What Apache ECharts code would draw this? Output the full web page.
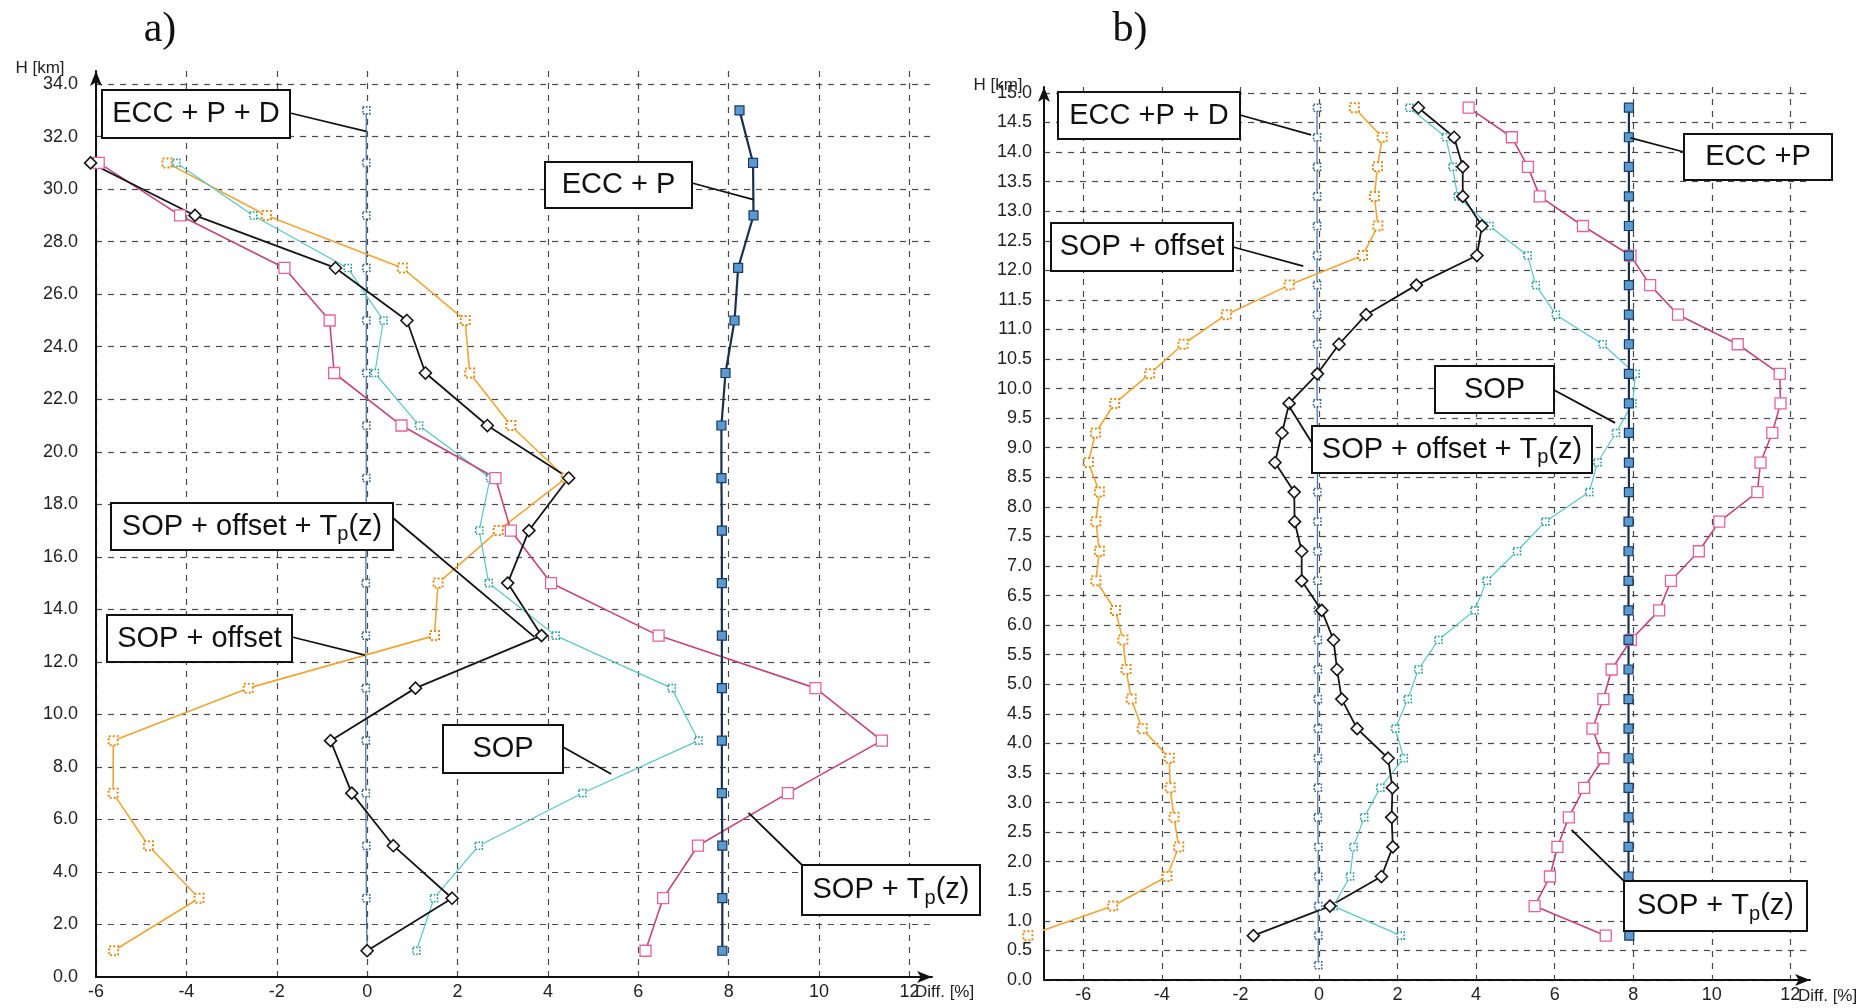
<!DOCTYPE html>
<html><head><meta charset="utf-8">
<script src="https://cdn.jsdelivr.net/npm/echarts@6/dist/echarts.min.js"></script>
<style>html,body{margin:0;padding:0;background:#fff}#c{width:1874px;height:1008px}</style>
</head><body><div id="c"></div>
<script>
// ---------------- DATA ----------------
// tick labels
const xTicks = [-6, -4, -2, 0, 2, 4, 6, 8, 10, 12];
const yTicksA = [0, 2, 4, 6, 8, 10, 12, 14, 16, 18, 20, 22, 24, 26, 28, 30, 32, 34];
const yTicksB = [0, 0.5, 1, 1.5, 2, 2.5, 3, 3.5, 4, 4.5, 5, 5.5, 6, 6.5, 7, 7.5, 8, 8.5, 9, 9.5, 10, 10.5, 11, 11.5, 12, 12.5, 13, 13.5, 14, 14.5, 15];

// panel a) heights [km]
const heightsA = [1, 3, 5, 7, 9, 11, 13, 15, 17, 19, 21, 23, 25, 27, 29, 31];
const heightsEccA = [1, 3, 5, 7, 9, 11, 13, 15, 17, 19, 21, 23, 25, 27, 29, 31, 33];
// panel a) differences [%]
const eccPD_A = [0.0, -0.02, -0.02, -0.03, -0.03, -0.03, -0.03, -0.03, -0.02, -0.02, -0.02, -0.02, -0.02, -0.02, -0.02, -0.02, -0.02];
const eccP_A = [7.86, 7.86, 7.86, 7.85, 7.85, 7.85, 7.85, 7.85, 7.85, 7.84, 7.84, 7.93, 8.13, 8.21, 8.55, 8.54, 8.24];
const sopOffTp_A = [0.0, 1.88, 0.58, -0.34, -0.81, 1.07, 3.86, 3.11, 3.58, 4.46, 2.66, 1.29, 0.88, -0.70, -3.81, -6.12];
const sopOff_A = [-5.61, -3.72, -4.84, -5.62, -5.62, -2.63, 1.49, 1.57, 2.90, 4.40, 3.18, 2.27, 2.17, 0.78, -2.23, -4.43];
const sop_A = [1.09, 1.48, 2.47, 4.76, 7.33, 6.74, 4.17, 2.69, 2.48, 2.72, 1.15, 0.17, 0.36, -0.43, -2.52, -4.22];
const sopTp_A = [6.16, 6.55, 7.32, 9.31, 11.39, 9.92, 6.45, 4.07, 3.18, 2.84, 0.76, -0.73, -0.83, -1.83, -4.14, -5.94];

// panel b) heights [km]
const heightsB = [0.75, 1.25, 1.75, 2.25, 2.75, 3.25, 3.75, 4.25, 4.75, 5.25, 5.75, 6.25, 6.75, 7.25, 7.75,
  8.25, 8.75, 9.25, 9.75, 10.25, 10.75, 11.25, 11.75, 12.25, 12.75, 13.25, 13.75, 14.25, 14.75];
const heightsEccPDB = [0.25, 0.75, 1.25, 1.75, 2.25, 2.75, 3.25, 3.75, 4.25, 4.75, 5.25, 5.75, 6.25, 6.75, 7.25, 7.75,
  8.25, 8.75, 9.25, 9.75, 10.25, 10.75, 11.25, 11.75, 12.25, 12.75, 13.25, 13.75, 14.25, 14.75];
// panel b) differences [%]
const eccPD_B = [-0.02, -0.02, -0.02, -0.02, -0.02, -0.03, -0.03, -0.03, -0.03, -0.03, -0.03, -0.03, -0.03, -0.04, -0.04, -0.04,
  -0.04, -0.04, -0.04, -0.05, -0.05, -0.05, -0.05, -0.05, -0.05, -0.05, -0.05, -0.05, -0.05, -0.05];
const eccP_B = [7.90, 7.88, 7.88, 7.88, 7.88, 7.88, 7.88, 7.88, 7.88, 7.88, 7.88, 7.88, 7.88, 7.88, 7.88,
  7.89, 7.89, 7.89, 7.89, 7.89, 7.89, 7.89, 7.89, 7.89, 7.89, 7.89, 7.89, 7.89, 7.89];
const sopOffTp_B = [-1.67, 0.28, 1.59, 1.88, 1.85, 1.87, 1.76, 0.97, 0.58, 0.46, 0.37, 0.07, -0.44, -0.44, -0.62,
  -0.63, -1.12, -0.94, -0.76, -0.04, 0.51, 1.20, 2.48, 4.02, 4.15, 3.66, 3.66, 3.44, 2.53];
const sopOff_B = [-7.41, -5.25, -3.87, -3.57, -3.69, -3.79, -3.81, -4.50, -4.78, -4.91, -4.99, -5.18, -5.68, -5.59, -5.68,
  -5.59, -5.87, -5.69, -5.20, -4.31, -3.46, -2.36, -0.76, 1.11, 1.50, 1.41, 1.49, 1.61, 0.90];
const sop_B = [2.08, 0.37, 0.79, 0.88, 1.15, 1.56, 2.16, 1.94, 2.26, 2.53, 3.04, 3.96, 4.27, 5.04, 5.76,
  6.88, 7.09, 7.56, 7.98, 8.06, 7.22, 6.03, 5.52, 5.31, 4.34, 3.53, 3.40, 3.23, 2.30];
const sopTp_B = [7.30, 5.49, 5.88, 6.07, 6.36, 6.75, 7.24, 6.96, 7.24, 7.45, 7.94, 8.66, 8.96, 9.67, 10.19,
  11.16, 11.24, 11.54, 11.75, 11.73, 10.66, 9.14, 8.43, 7.93, 6.72, 5.62, 5.32, 4.91, 3.81];

// annotation texts
const annTextsA = ['ECC + P + D', 'ECC + P', 'SOP + offset + T{p|p}(z)', 'SOP + offset', 'SOP', 'SOP + T{p|p}(z)'];
const annTextsB = ['ECC +P + D', 'ECC +P', 'SOP + offset', 'SOP + offset + T{p|p}(z)', 'SOP', 'SOP + T{p|p}(z)'];
// leader-line targets (data coordinates)
const annTargetsA = [[-0.02, 32.2], [8.55, 29.6], [3.70, 12.95], [-0.05, 12.26], [5.4, 7.73], [8.44, 6.25]];
const annTargetsB = [[-0.2, 14.29], [7.93, 14.24], [-0.4, 12.07], [-0.76, 9.7], [7.54, 9.42], [6.43, 2.54]];

// ---------------- LAYOUT / STYLE ----------------
const FONT = "'Liberation Sans', Arial, Helvetica, sans-serif";
const boxesA = [[102, 90, 188, 48], [545, 162, 147, 46], [111, 503, 282, 47], [107, 615, 185, 47], [443, 725, 120, 48], [802, 865, 178, 50]];
const fromA = [[290, 113], [692, 183], [393, 518], [292, 637], [563, 747], [802, 865]];
const boxesB = [[1058, 92, 182, 47], [1684, 134, 148, 46], [1051, 223, 182, 48], [1312, 426, 280, 47], [1435, 366, 119, 47], [1624, 881, 183, 50]];
const fromB = [[1240, 115], [1684, 152], [1233, 247], [1312, 443], [1554, 390], [1624, 881]];

const pts = (xs, hs) => hs.map((h, i) => [xs[i], h]);

const gridLine = { show: true, lineStyle: { color: '#4a4a4a', type: [6, 6], width: 1.2 } };
const axisLineStyle = { show: true, onZero: false, lineStyle: { color: '#111', width: 2 }, symbol: ['none', 'arrow'], symbolSize: [9, 15] };

function xAxisCfg(gi, min, max) {
  return {
    gridIndex: gi, type: 'value', min: min, max: max,
    axisLine: axisLineStyle,
    axisTick: { show: false, customValues: xTicks },
    axisLabel: { customValues: xTicks, fontSize: 18, color: '#222', margin: 6, fontFamily: FONT },
    splitLine: gridLine
  };
}
function yAxisCfg(gi, max, ticks, margin) {
  return {
    gridIndex: gi, type: 'value', min: 0, max: max,
    axisLine: axisLineStyle,
    axisTick: { show: false, customValues: ticks },
    axisLabel: { customValues: ticks, fontSize: 18, color: '#222', margin: margin, fontFamily: FONT, formatter: v => v.toFixed(1) },
    splitLine: gridLine
  };
}

const styles = {
  eccPD: { color: '#3f6f9f', width: 1.2, symbol: 'rect', size: 7, fill: '#fff', border: '#2f5f8f', bw: 1.6, btype: 'dotted' },
  eccP: { color: '#1a2f4f', width: 2.2, symbol: 'rect', size: 9, fill: '#5a9ad0', border: '#1a3a60', bw: 1.2, btype: 'solid' },
  sopOffTp: { color: '#151515', width: 1.8, symbol: 'diamond', size: 12, fill: '#fff', border: '#151515', bw: 1.6, btype: 'solid' },
  sopOff: { color: '#f0a536', width: 1.6, symbol: 'rect', size: 9, fill: '#fff', border: '#e08a18', bw: 2, btype: 'dotted' },
  sop: { color: '#58c6c6', width: 1.2, symbol: 'rect', size: 7, fill: '#fff', border: '#239a9a', bw: 1.6, btype: 'dotted' },
  sopTp: { color: '#c2457f', width: 1.6, symbol: 'rect', size: 11, fill: '#fff', border: '#e2639f', bw: 1.3, btype: 'solid' }
};

function ser(name, gi, data, st) {
  return {
    name: name, type: 'line', xAxisIndex: gi, yAxisIndex: gi, data: data, clip: false,
    symbol: st.symbol, symbolSize: st.size, showAllSymbol: true, animation: false,
    lineStyle: { color: st.color, width: st.width },
    itemStyle: { color: st.fill, borderColor: st.border, borderWidth: st.bw, borderType: st.btype },
    emphasis: { disabled: true }
  };
}

const chart = echarts.init(document.getElementById('c'), null, { renderer: 'canvas' });
const option = {
  backgroundColor: '#fff',
  animation: false,
  grid: [
    { left: 96, top: 71, width: 836, height: 906 },
    { left: 1044, top: 87, width: 766, height: 893 }
  ],
  xAxis: [xAxisCfg(0, -6, 12.5), xAxisCfg(1, -7, 12.5)],
  yAxis: [yAxisCfg(0, 34.5, yTicksA, 18), yAxisCfg(1, 15.1, yTicksB, 12)],
  series: [
    ser('ECC + P + D', 0, pts(eccPD_A, heightsEccA), styles.eccPD),
    ser('SOP + offset', 0, pts(sopOff_A, heightsA), styles.sopOff),
    ser('SOP', 0, pts(sop_A, heightsA), styles.sop),
    ser('SOP + Tp(z)', 0, pts(sopTp_A, heightsA), styles.sopTp),
    ser('SOP + offset + Tp(z)', 0, pts(sopOffTp_A, heightsA), styles.sopOffTp),
    ser('ECC + P', 0, pts(eccP_A, heightsEccA), styles.eccP),
    ser('ECC +P + D', 1, pts(eccPD_B, heightsEccPDB), styles.eccPD),
    ser('SOP + offset', 1, pts(sopOff_B, heightsB), styles.sopOff),
    ser('SOP', 1, pts(sop_B, heightsB), styles.sop),
    ser('SOP + Tp(z)', 1, pts(sopTp_B, heightsB), styles.sopTp),
    ser('SOP + offset + Tp(z)', 1, pts(sopOffTp_B, heightsB), styles.sopOffTp),
    ser('ECC +P', 1, pts(eccP_B, heightsB), styles.eccP)
  ]
};
chart.setOption(option);

// ---------------- ANNOTATIONS ----------------
const gfx = [];
function addText(txt, x, y, opts) {
  gfx.push(Object.assign({ type: 'text', z: 100, style: Object.assign({ text: txt, x: x, y: y, fill: '#111' }, opts) }));
}
addText('a)', 160, 30, { font: "42px 'Liberation Serif', 'Times New Roman', serif", align: 'center', verticalAlign: 'middle' });
addText('b)', 1130, 30, { font: "42px 'Liberation Serif', 'Times New Roman', serif", align: 'center', verticalAlign: 'middle' });
addText('H [km]', 40, 68, { font: "17px " + FONT, align: 'center', verticalAlign: 'middle', fill: '#222' });
addText('H [km]', 998, 85, { font: "17px " + FONT, align: 'center', verticalAlign: 'middle', fill: '#222' });
addText('Diff. [%]', 915, 992, { font: "17px " + FONT, align: 'left', verticalAlign: 'middle', fill: '#222' });
addText('Diff. [%]', 1798, 996, { font: "17px " + FONT, align: 'left', verticalAlign: 'middle', fill: '#222' });

function addAnnotations(gi, texts, targets, boxes, froms) {
  texts.forEach((t, i) => {
    const end = chart.convertToPixel({ gridIndex: gi }, targets[i]);
    const b = boxes[i];
    gfx.push({ type: 'line', z: 101, shape: { x1: froms[i][0], y1: froms[i][1], x2: end[0], y2: end[1] }, style: { stroke: '#111', lineWidth: 1.8 } });
    gfx.push({ type: 'rect', z: 102, shape: { x: b[0], y: b[1], width: b[2], height: b[3] }, style: { fill: '#fff', stroke: '#111', lineWidth: 2 } });
    gfx.push({
      type: 'text', z: 103,
      style: {
        text: t, x: b[0] + b[2] / 2, y: b[1] + b[3] / 2, align: 'center', verticalAlign: 'middle',
        fontSize: 29, fontFamily: FONT, fill: '#111', lineHeight: 36,
        rich: { p: { fontSize: 20, fontFamily: FONT, fill: '#111', verticalAlign: 'bottom', lineHeight: 16 } }
      }
    });
  });
}
addAnnotations(0, annTextsA, annTargetsA, boxesA, fromA);
addAnnotations(1, annTextsB, annTargetsB, boxesB, fromB);
chart.setOption({ graphic: { elements: gfx } });
</script>
</body></html>
